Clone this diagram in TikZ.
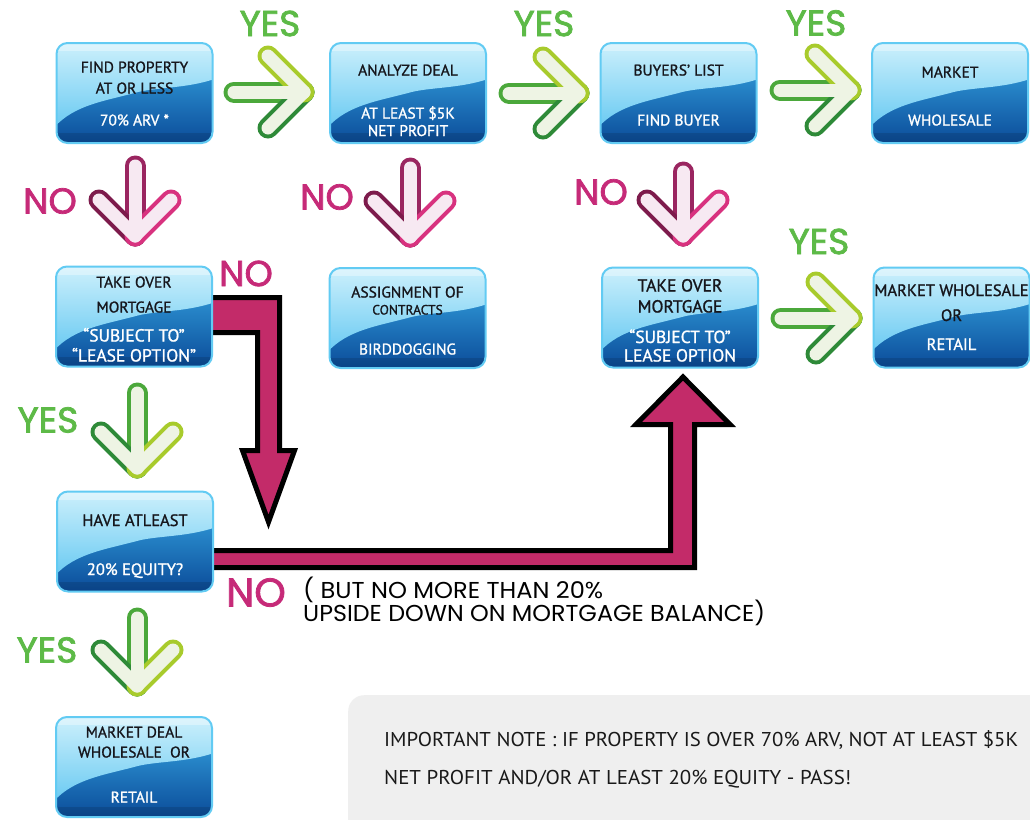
\documentclass[tikz,border=0pt]{standalone}
\usepackage{fontspec}
\newfontfamily\boxfont{PT Sans}[FakeBold=1.2]
\newfontfamily\lblfont{Poppins}[FakeBold=2]
\newfontfamily\notefont{PT Sans}
\newfontfamily\handfont{Poppins}
\definecolor{gA}{HTML}{4BA83B}
\definecolor{gB}{HTML}{A8CB2C}
\definecolor{gC}{HTML}{2E8A38}
\definecolor{gIn}{HTML}{EEF4E4}
\definecolor{pA}{HTML}{9A2560}
\definecolor{pB}{HTML}{7D1B4C}
\definecolor{pC}{HTML}{D8327F}
\definecolor{pIn}{HTML}{F7E9F2}
\definecolor{bigmag}{HTML}{C32B69}
\definecolor{yescol}{HTML}{5DBA47}
\definecolor{nocol}{HTML}{C62A78}
\definecolor{bxTop}{HTML}{3BB0EA}
\definecolor{bxMid}{HTML}{1C8FD8}
\definecolor{bxBot}{HTML}{0A4A98}
\definecolor{hlTop}{HTML}{CFF1FC}
\definecolor{hlBot}{HTML}{6ACAF2}
\definecolor{bxEdge}{HTML}{62CBF3}
\definecolor{notegray}{HTML}{EFEFEF}
\definecolor{darktxt}{HTML}{16161C}

\newcommand\rarr[3]{%
  \draw[aout, draw=gA] (#1,#3) -- (#2,#3);
  \draw[aout, draw=gC] (#2-36,#3+36) -- (#2,#3);
  \draw[aout, draw=gB] (#2-36,#3-36) -- (#2,#3);
  \draw[ain, draw=gIn] (#1,#3) -- (#2,#3);
  \draw[ain, draw=gIn] (#2-36,#3-36) -- (#2,#3) -- (#2-36,#3+36);
}
\newcommand\darr[7]{%
  \draw[aout, draw=#4] (#1,#2) -- (#1,#3);
  \draw[aout, draw=#5] (#1-36,#3-36) -- (#1,#3);
  \draw[aout, draw=#6] (#1+36,#3-36) -- (#1,#3);
  \draw[ain, draw=#7] (#1,#2) -- (#1,#3);
  \draw[ain, draw=#7] (#1-36,#3-36) -- (#1,#3) -- (#1+36,#3-36);
}
\newcommand\gbox[3]{%
  \begin{scope}[shift={(#2,#3)}]
    \begin{scope}
      \clip[rounded corners=11pt] (-78,-50) rectangle (78,50);
      \shade[top color=bxTop, middle color=bxMid, bottom color=bxBot] (-80,-52) rectangle (80,52);
      \shade[top color=hlTop, bottom color=hlBot] (-80,-52) -- (80,-52) -- (80,-14)
        .. controls (50,-4) and (20,-6) .. (0,0) .. controls (-30,8) and (-60,12) .. (-80,34) -- cycle;
      \fill[white, opacity=0.35] (-80,-52) rectangle (80,-42);
      \fill[black, opacity=0.12] (-80,40) rectangle (80,52);
    \end{scope}
    \node[draw=bxEdge, line width=2pt, rounded corners=11pt, minimum width=156pt,
          minimum height=100pt, inner sep=0pt] (#1) at (0,0) {};
  \end{scope}
}

\begin{document}
\begin{tikzpicture}[x=1pt, y=-1pt,
  aout/.style={line width=21pt, line cap=round, line join=round},
  ain/.style={line width=13pt, line cap=round, line join=round},
  bigarrow/.style={fill=bigmag, draw=black, line width=5pt, line join=miter},
  toptxt/.style={font=\boxfont\fontsize{15.5}{18}\selectfont, text=darktxt, inner sep=0pt, anchor=base},
  bottxt/.style={font=\boxfont\fontsize{15.5}{18}\selectfont, text=white, inner sep=0pt, anchor=base},
  yeslbl/.style={font=\lblfont\fontsize{36}{40}\selectfont, text=yescol, inner sep=0pt},
  nolbl/.style={font=\lblfont\fontsize{36}{40}\selectfont, text=nocol, inner sep=0pt},
  hand/.style={font=\handfont\fontsize{23}{26}\selectfont, text=black, inner sep=0pt, anchor=base west},
  notetxt/.style={font=\notefont\fontsize{20}{22}\selectfont, text=black!90, inner sep=0pt, anchor=base west}]
\clip (0,0) rectangle (1030,819);
\fill[white] (0,0) rectangle (1030,819);

% note panel
\node[fill=notegray, rounded corners=16pt, minimum width=720pt, minimum height=160pt,
      anchor=north west, inner sep=0pt] (note) at (348,695) {};
\node[notetxt] (note1) at (384,746) {\resizebox{634pt}{\height}{IMPORTANT NOTE : IF PROPERTY IS OVER 70\% ARV, NOT AT LEAST \$5K}};
\node[notetxt] (note2) at (384,784) {\resizebox{467pt}{\height}{NET PROFIT AND/OR AT LEAST 20\% EQUITY - PASS!}};

% big magenta elbow arrows
\draw[bigarrow] (195,297.5) -- (279.5,297.5) -- (279.5,450.5) -- (294.5,450.5) -- (268.5,522)
   -- (242.5,450.5) -- (257.5,450.5) -- (257.5,332.5) -- (195,332.5);
\draw[bigarrow] (195,550.5) -- (670.5,550.5) -- (670.5,424.5) -- (636,424.5) -- (683,377)
   -- (730,424.5) -- (694.5,424.5) -- (694.5,567.5) -- (195,567.5);

% boxes
\gbox{b1}{134.5}{93}
\gbox{b2}{408}{93}
\gbox{b3}{678.5}{93}
\gbox{b4}{950}{93}
\gbox{b5}{134}{316.5}
\gbox{b6}{407.5}{318}
\gbox{b7}{680}{317.5}
\gbox{b8}{951.5}{317.5}
\gbox{b9}{135}{541.5}
\gbox{b10}{134}{767}

% box texts
\node[toptxt] (t1a) at (134.5,72.5) {FIND PROPERTY};
\node[toptxt] (t1b) at (134.5,93.5) {AT OR LESS};
\node[bottxt] (t1c) at (134.5,125.5) {70\% ARV *};

\node[toptxt] (t2a) at (408,75.5) {ANALYZE DEAL};
\node[bottxt] (t2b) at (408,118.5) {AT LEAST \$5K};
\node[bottxt] (t2c) at (408,136) {NET PROFIT};

\node[toptxt] (t3a) at (678.5,75.5) {BUYERS’ LIST};
\node[bottxt] (t3b) at (678.5,125.5) {FIND BUYER};

\node[toptxt] (t4a) at (950,77.5) {MARKET};
\node[bottxt] (t4b) at (950,125.5) {WHOLESALE};

\node[toptxt] (t5a) at (134,287.5) {TAKE OVER};
\node[toptxt] (t5b) at (134,312.5) {MORTGAGE};
\node[bottxt, font=\boxfont\fontsize{17.5}{20}\selectfont] (t5c) at (134,341.5) {“SUBJECT TO”};
\node[bottxt, font=\boxfont\fontsize{17.5}{20}\selectfont] (t5d) at (134,361.5) {“LEASE OPTION”};

\node[toptxt] (t6a) at (407.5,297.5) {ASSIGNMENT OF};
\node[toptxt, font=\boxfont\fontsize{13.5}{16}\selectfont] (t6b) at (407.5,314.5) {CONTRACTS};
\node[bottxt] (t6c) at (407.5,354.5) {BIRDDOGGING};

\node[toptxt, font=\boxfont\fontsize{17.5}{20}\selectfont] (t7a) at (680,291.5) {TAKE OVER};
\node[toptxt, font=\boxfont\fontsize{17.5}{20}\selectfont] (t7b) at (680,312.5) {MORTGAGE};
\node[bottxt, font=\boxfont\fontsize{17.5}{20}\selectfont] (t7c) at (680,343) {“SUBJECT TO”};
\node[bottxt, font=\boxfont\fontsize{17.5}{20}\selectfont] (t7d) at (680,361.5) {LEASE OPTION};

\node[toptxt, font=\boxfont\fontsize{16.5}{19}\selectfont] (t8a) at (951.5,296) {MARKET WHOLESALE};
\node[toptxt, font=\boxfont\fontsize{16.5}{19}\selectfont] (t8b) at (951.5,321) {OR};
\node[bottxt, font=\boxfont\fontsize{16.5}{19}\selectfont] (t8c) at (951.5,350) {RETAIL};

\node[toptxt, font=\boxfont\fontsize{16.5}{19}\selectfont] (t9a) at (135,526) {HAVE ATLEAST};
\node[bottxt, font=\boxfont\fontsize{16.5}{19}\selectfont] (t9b) at (135,575) {20\% EQUITY?};

\node[toptxt] (t10a) at (134,737.5) {MARKET DEAL};
\node[toptxt] (t10b) at (134,757.5) {WHOLESALE\ \ OR};
\node[bottxt] (t10c) at (134,802.5) {RETAIL};

% green right arrows
\rarr{234}{304}{92}
\rarr{509}{579}{93}
\rarr{780}{851}{90}
\rarr{781}{852}{318}
% pink down arrows
\darr{135}{166}{236}{pA}{pB}{pC}{pIn}
\darr{410}{168}{237}{pA}{pB}{pC}{pIn}
\darr{683}{172}{236}{pA}{pB}{pC}{pIn}
% green down arrows
\darr{137}{393}{468}{gA}{gC}{gB}{gIn}
\darr{137}{618}{686}{gA}{gC}{gB}{gIn}

% YES / NO labels
\node[yeslbl] (y1) at (270,23.5) {YES};
\node[yeslbl] (y2) at (544,23.5) {YES};
\node[yeslbl] (y3) at (816,23) {YES};
\node[yeslbl] (y4) at (819,241.5) {YES};
\node[yeslbl] (y5) at (48,420) {YES};
\node[yeslbl] (y6) at (47,650) {YES};

\node[nolbl] (n1) at (50,201) {NO};
\node[nolbl] (n2) at (327,197) {NO};
\node[nolbl] (n3) at (601,192) {NO};
\node[nolbl] (n4) at (246,273.5) {NO};
\node[nolbl, font=\lblfont\fontsize{40}{44}\selectfont] (n5) at (256,592.5) {NO};

% hand-written remark
\node[hand] (r1) at (303,598) {\resizebox{300pt}{\height}{( BUT NO MORE THAN 20\%}};
\node[hand] (r2) at (303,621) {\resizebox{462pt}{\height}{UPSIDE DOWN ON MORTGAGE BALANCE)}};
\end{tikzpicture}
\end{document}
